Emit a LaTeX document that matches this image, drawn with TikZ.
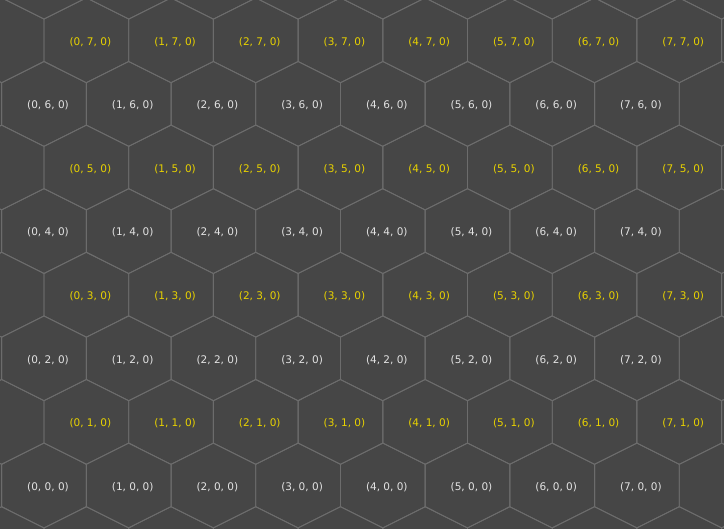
\documentclass[tikz,border=0pt]{standalone}
\usepackage{fontspec}
\setsansfont{DejaVu Sans}
\definecolor{bgcol}{RGB}{70,70,70}
\definecolor{gridcol}{RGB}{108,108,108}
\definecolor{labeven}{RGB}{226,226,226}
\definecolor{labodd}{RGB}{232,210,0}

\begin{document}
\begin{tikzpicture}[x=1pt, y=-1pt,
    hexline/.style={draw=gridcol, line width=0.9pt, line join=round},
    celllabel/.style={font=\sffamily\fontsize{10.5}{12}\selectfont, inner sep=0pt}]
  \useasboundingbox (0,0) rectangle (724,529);
  \fill[bgcol] (0,0) rectangle (724,529);
  \clip (0,0) rectangle (724,529);

  % hexagon grid, one ring wider than the labelled cells
  \foreach \j in {-1,...,8} {
    \foreach \i in {-1,...,8} {
      \pgfmathsetmacro{\cx}{44+84.7*\i+42.35*mod(\j+10,2)}
      \pgfmathsetmacro{\cy}{485.5-63.6*\j}
      \draw[hexline] (\cx,\cy-42.4) -- ++(42.35,21.2) -- ++(0,42.4)
        -- ++(-42.35,21.2) -- ++(-42.35,-21.2) -- ++(0,-42.4) -- cycle;
    }
  }

  % cell labels
  \foreach \j in {0,...,7} {
    \foreach \i in {0,...,7} {
      \pgfmathsetmacro{\cx}{44+84.7*\i+42.35*mod(\j,2)}
      \pgfmathsetmacro{\cy}{485.5-63.6*\j}
      \ifodd\j \def\labcol{labodd}\else\def\labcol{labeven}\fi
      \node[celllabel, text=\labcol] (c-\i-\j) at (\cx+4,\cy+1.5) {(\i, \j, 0)};
    }
  }
\end{tikzpicture}
\end{document}
